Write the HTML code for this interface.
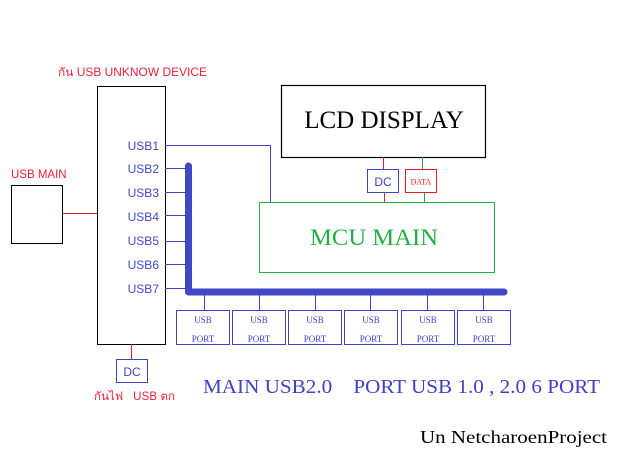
<!DOCTYPE html>
<html><head><meta charset="utf-8"><style>
html,body{margin:0;padding:0;background:#fff;width:623px;height:460px;overflow:hidden}
svg{display:block}
.s{font-family:"Liberation Sans","Noto Sans CJK SC",sans-serif}
.r{font-family:"Liberation Serif","Noto Serif CJK SC",serif}
</style></head><body>
<svg width="623" height="460" xmlns="http://www.w3.org/2000/svg">
<text x="58" y="76" class="s" font-size="11.5" fill="#e8203a" textLength="149" lengthAdjust="spacingAndGlyphs">กัน USB UNKNOW DEVICE</text>
<text x="11" y="178" class="s" font-size="11.5" fill="#e8203a">USB MAIN</text>
<rect x="11.5" y="185.5" width="51" height="58" fill="none" stroke="#000"/>
<line x1="62" y1="213.5" x2="97" y2="213.5" stroke="#e02020"/>
<rect x="97.5" y="86.5" width="68" height="258" fill="none" stroke="#000"/>
<g class="s" font-size="12" fill="#4444cc" text-anchor="end">
<text x="159" y="150">USB1</text><text x="159" y="173">USB2</text><text x="159" y="197">USB3</text>
<text x="159" y="221">USB4</text><text x="159" y="245">USB5</text><text x="159" y="269">USB6</text><text x="159" y="293">USB7</text>
</g>
<g stroke="#4040c8" stroke-width="1">
<polyline points="165,145.5 270.5,145.5 270.5,202" fill="none"/>
<line x1="165" y1="168.5" x2="187" y2="168.5"/><line x1="165" y1="192.5" x2="187" y2="192.5"/>
<line x1="165" y1="215.5" x2="187" y2="215.5"/><line x1="165" y1="241.5" x2="187" y2="241.5"/>
<line x1="165" y1="264.5" x2="187" y2="264.5"/><line x1="165" y1="288.5" x2="187" y2="288.5"/>
</g>
<polyline points="188.5,166 188.5,292 504,292" fill="none" stroke="#4048c8" stroke-width="7" stroke-linecap="round" stroke-linejoin="round"/>
<g stroke="#4040c8" fill="none">
<line x1="204.5" y1="292" x2="204.5" y2="310"/><line x1="259.5" y1="292" x2="259.5" y2="310"/>
<line x1="315.5" y1="292" x2="315.5" y2="310"/><line x1="370.5" y1="292" x2="370.5" y2="310"/>
<line x1="427.5" y1="292" x2="427.5" y2="310"/><line x1="483.5" y1="292" x2="483.5" y2="310"/>
<rect x="176.5" y="310.5" width="53" height="34"/><rect x="232.5" y="310.5" width="53" height="34"/>
<rect x="288.5" y="310.5" width="53" height="34"/><rect x="344.5" y="310.5" width="53" height="34"/>
<rect x="401.5" y="310.5" width="53" height="34"/><rect x="457.5" y="310.5" width="53" height="34"/>
</g>
<g class="r" font-size="9" fill="#4040c8" text-anchor="middle">
<text x="203" y="323">USB</text><text x="203" y="342">PORT</text>
<text x="259" y="323">USB</text><text x="259" y="342">PORT</text>
<text x="315" y="323">USB</text><text x="315" y="342">PORT</text>
<text x="371" y="323">USB</text><text x="371" y="342">PORT</text>
<text x="428" y="323">USB</text><text x="428" y="342">PORT</text>
<text x="484" y="323">USB</text><text x="484" y="342">PORT</text>
</g>
<rect x="281.5" y="85.5" width="204" height="72" fill="none" stroke="#000" stroke-width="1.2"/>
<text x="384" y="128" class="r" font-size="25" fill="#000" text-anchor="middle">LCD DISPLAY</text>
<line x1="383.5" y1="157" x2="383.5" y2="169" stroke="#e02020"/>
<line x1="384.5" y1="192" x2="384.5" y2="202" stroke="#e02020"/>
<line x1="422.5" y1="157" x2="422.5" y2="169" stroke="#20b040"/>
<line x1="424.5" y1="192" x2="424.5" y2="202" stroke="#20b040"/>
<rect x="367.5" y="169.5" width="31" height="23" fill="none" stroke="#4040c8"/>
<text x="383" y="186" class="s" font-size="12" fill="#4040c8" text-anchor="middle">DC</text>
<rect x="405.5" y="169.5" width="31" height="23" fill="none" stroke="#e02020"/>
<text x="421" y="184.5" class="r" font-size="8" fill="#e02020" text-anchor="middle">DATA</text>
<rect x="259.5" y="202.5" width="235" height="70" fill="none" stroke="#20b040"/>
<text x="310" y="245" class="r" font-size="23" fill="#20b040" textLength="128" lengthAdjust="spacingAndGlyphs">MCU MAIN</text>
<line x1="131.5" y1="344" x2="131.5" y2="359" stroke="#e02020"/>
<rect x="116.5" y="359.5" width="31" height="23" fill="none" stroke="#4040c8"/>
<text x="132" y="376" class="s" font-size="12" fill="#4040c8" text-anchor="middle">DC</text>
<text x="94" y="400" class="s" font-size="11.5" fill="#e8203a" textLength="81" lengthAdjust="spacing" xml:space="preserve">กันไฟ   USB ตก</text>
<text x="203" y="393" class="r" font-size="20" fill="#4040c8" xml:space="preserve" textLength="397" lengthAdjust="spacingAndGlyphs">MAIN USB2.0    PORT USB 1.0 , 2.0 6 PORT</text>
<text x="420" y="443" class="r" font-size="18" fill="#000" textLength="187" lengthAdjust="spacingAndGlyphs">Un NetcharoenProject</text>
</svg>
</body></html>
